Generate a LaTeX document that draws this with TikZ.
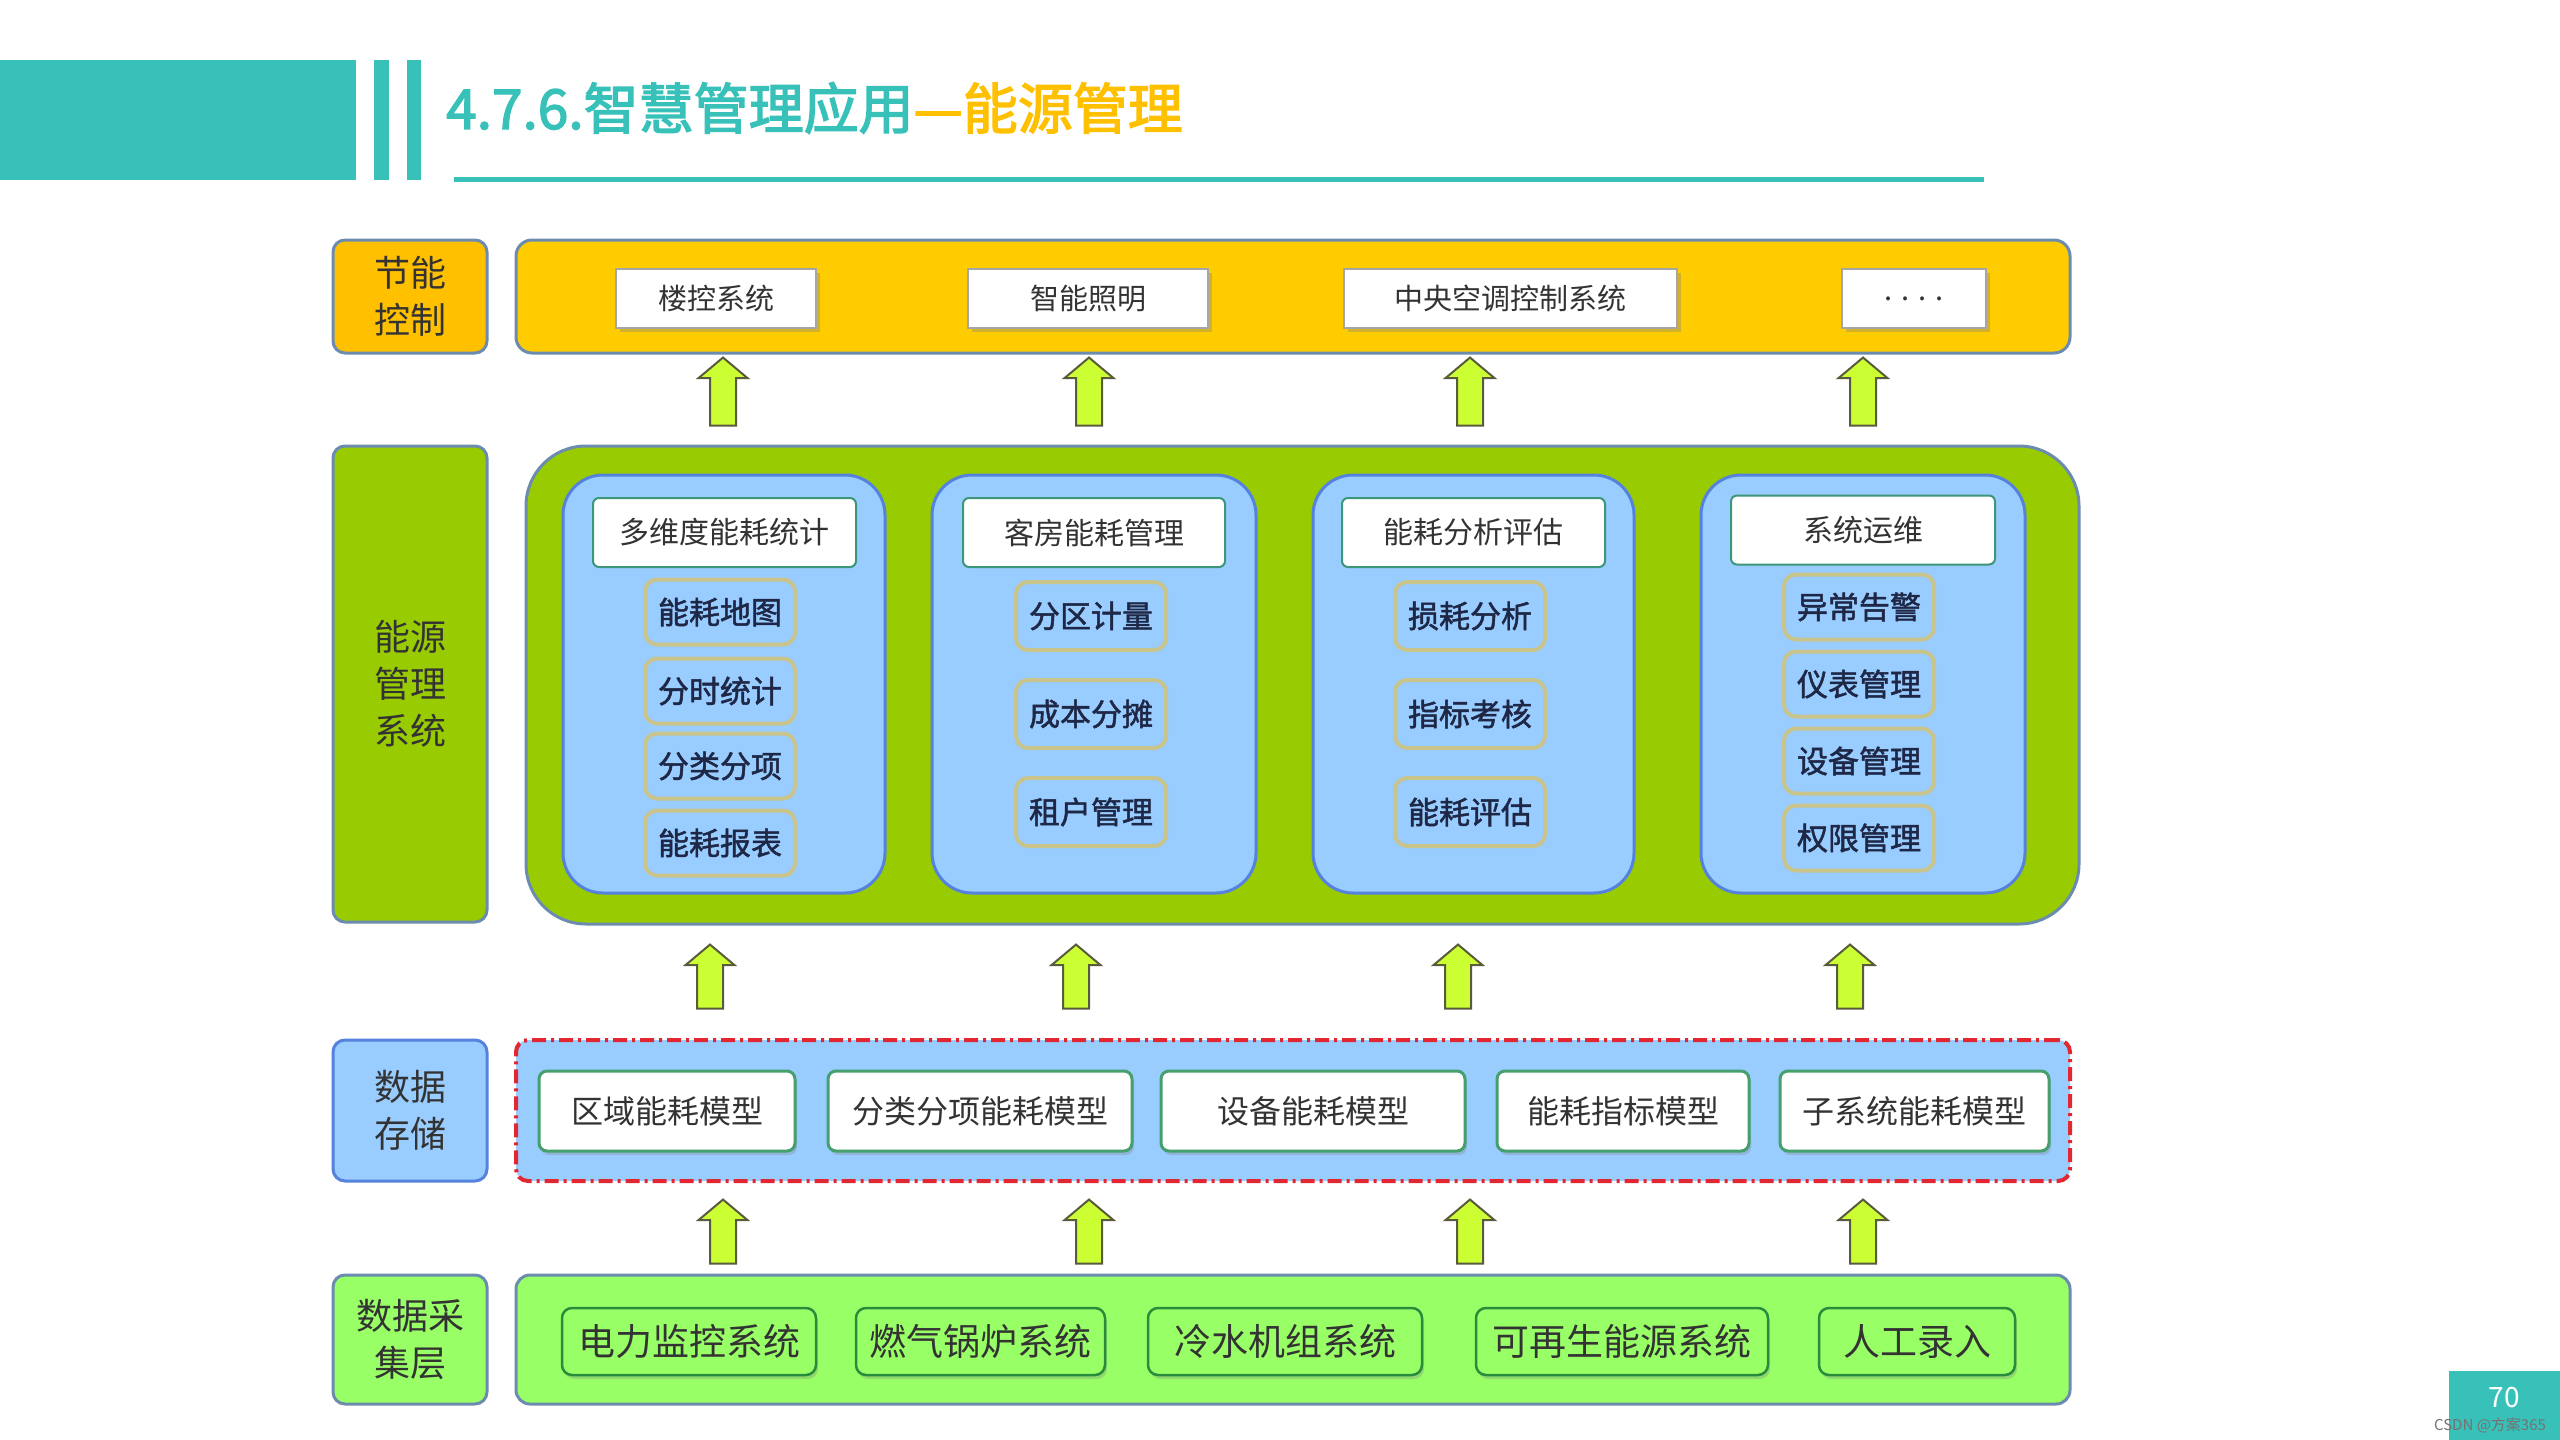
\documentclass[tikz,border=0pt]{standalone}
\usepackage{fontspec}
\setmainfont{Noto Sans CJK SC}
\newfontfamily\cjk{Noto Sans CJK SC}
\newfontfamily\cjkb{Noto Sans CJK SC}[FakeBold=1.6]
\newfontfamily\cjkt{Noto Sans CJK SC}[FakeBold=2.5]
\usetikzlibrary{shapes.arrows,shadows}
\definecolor{tealc}{RGB}{56,193,185}
\definecolor{goldc}{RGB}{255,192,0}
\definecolor{yelbox}{RGB}{255,204,0}
\definecolor{greenbig}{RGB}{153,204,0}
\definecolor{bluecol}{RGB}{153,204,255}
\definecolor{greencol}{RGB}{153,255,102}
\definecolor{bordgray}{RGB}{108,140,175}
\definecolor{bordblue}{RGB}{84,130,220}
\definecolor{itembord}{RGB}{200,196,140}
\definecolor{hdrbord}{RGB}{60,150,120}
\definecolor{modbord}{RGB}{70,160,110}
\definecolor{colbord}{RGB}{40,140,60}
\definecolor{arrfill}{RGB}{204,255,51}
\definecolor{arrbord}{RGB}{90,90,60}
\definecolor{txtc}{RGB}{51,51,51}
\definecolor{itemtxt}{RGB}{30,40,70}
\definecolor{redd}{RGB}{225,40,50}
\tikzset{
  lbl/.style={draw=bordgray, line width=3pt, rounded corners=12pt, align=center,
    font=\cjk\fontsize{36}{47}\selectfont, text=txtc, inner sep=0pt},
  mainbox/.style={draw=bordgray, line width=3pt, inner sep=0pt},
  topitem/.style={draw=black!35, line width=1.5pt, fill=white, inner sep=0pt,
    font=\cjk\fontsize{29}{34}\selectfont, text=txtc,
    drop shadow={shadow xshift=4pt, shadow yshift=-4pt, opacity=0.35}},
  colbox/.style={draw=bordblue, line width=3pt, fill=bluecol, rounded corners=40pt, inner sep=0pt},
  hdr/.style={draw=hdrbord, line width=2pt, fill=white, rounded corners=6pt, inner sep=0pt,
    font=\cjk\fontsize{30}{36}\selectfont, text=txtc},
  itm/.style={draw=itembord, line width=4pt, fill=bluecol, rounded corners=12pt, inner sep=0pt,
    minimum width=150pt, font=\cjkb\fontsize{31}{36}\selectfont, text=itemtxt},
  modl/.style={draw=modbord, line width=3pt, fill=white, rounded corners=8pt, inner sep=0pt,
    minimum height=80pt, font=\cjk\fontsize{32}{38}\selectfont, text=txtc,
    drop shadow={shadow xshift=2pt, shadow yshift=-4pt, opacity=0.3}},
  coll/.style={draw=colbord, line width=2.5pt, fill=greencol, rounded corners=10pt, inner sep=0pt,
    minimum height=67pt, font=\cjk\fontsize{37}{42}\selectfont, text=txtc,
    drop shadow={shadow xshift=2pt, shadow yshift=-4pt, opacity=0.3}},
  blockarrow/.style={single arrow, rotate=90, fill=arrfill, draw=arrbord, line width=2pt,
    inner sep=12pt, single arrow head extend=11.5pt, minimum width=47pt,
    single arrow tip angle=100, minimum height=#1},
}
\begin{document}
\begin{tikzpicture}[x=1pt,y=-1pt]
\useasboundingbox (0,0) rectangle (2560,1440);
\fill[white] (0,0) rectangle (2560,1440);
% header
\fill[tealc] (0,60) rectangle (356,180);
\fill[tealc] (374,60) rectangle (389,180);
\fill[tealc] (407,60) rectangle (421,180);
\node[anchor=west, inner sep=0pt, font=\cjkt\fontsize{55}{60}\selectfont] (title) at (446,108)
  {\textcolor{tealc}{4.7.6.智慧管理应用}\textcolor{goldc}{—能源管理}};
\draw[tealc, line width=5pt] (454,179) -- (1984,179);
% page number
\node[fill=tealc, minimum width=111pt, minimum height=69pt, inner sep=0pt] (pg) at (2504.5,1405.5) {};
\node[text=white, font=\cjk\fontsize{28}{32}\selectfont, inner sep=0pt] (pgnum) at (2504,1398) {70};
\node[text=black!55, font=\cjk\fontsize{15}{18}\selectfont, inner sep=0pt] (wm) at (2490,1425) {CSDN @方案365};
% layer labels
\node[lbl, fill=goldc, minimum width=154pt, minimum height=113pt] (L1) at (410,296.5) {节能\\控制};
\node[lbl, fill=greenbig, minimum width=154pt, minimum height=476pt] (L2) at (410,684) {能源\\管理\\系统};
\node[lbl, draw=bordblue, fill=bluecol, minimum width=154pt, minimum height=141pt] (L3) at (410,1110.5) {数据\\存储};
\node[lbl, fill=greencol, minimum width=154pt, minimum height=129pt] (L4) at (410,1339.5) {数据采\\集层};
% top box
\node[mainbox, fill=yelbox, rounded corners=16pt, minimum width=1554pt, minimum height=113pt] (top) at (1293,296.5) {};
\node[topitem, minimum width=200pt, minimum height=59pt] (t1) at (716,298.5) {楼控系统};
\node[topitem, minimum width=240pt, minimum height=59pt] (t2) at (1088,298.5) {智能照明};
\node[topitem, minimum width=333pt, minimum height=59pt] (t3) at (1510.5,298.5) {中央空调控制系统};
\node[topitem, minimum width=144pt, minimum height=59pt] (t4) at (1914,298.5) {. . . .};
% green system box
\node[mainbox, fill=greenbig, rounded corners=60pt, minimum width=1553pt, minimum height=478pt] (sys) at (1302.5,685) {};
\node[colbox, minimum width=322pt, minimum height=418pt] (c1) at (724,684) {};
\node[colbox, minimum width=324pt, minimum height=418pt] (c2) at (1094,684) {};
\node[colbox, minimum width=321pt, minimum height=418pt] (c3) at (1473.5,684) {};
\node[colbox, minimum width=324pt, minimum height=418pt] (c4) at (1863,684) {};
\node[hdr, minimum width=263pt, minimum height=69pt] (h1) at (724.5,532.5) {多维度能耗统计};
\node[hdr, minimum width=262pt, minimum height=69pt] (h2) at (1094,532.5) {客房能耗管理};
\node[hdr, minimum width=263pt, minimum height=69pt] (h3) at (1473.5,532.5) {能耗分析评估};
\node[hdr, minimum width=264pt, minimum height=69pt] (h4) at (1863,530) {系统运维};
% items col1
\node[itm, minimum height=65pt] (i11) at (720,612) {能耗地图};
\node[itm, minimum height=65pt] (i12) at (720,691) {分时统计};
\node[itm, minimum height=65pt] (i13) at (720,766) {分类分项};
\node[itm, minimum height=65pt] (i14) at (720,843) {能耗报表};
% items col2
\node[itm, minimum height=68pt] (i21) at (1091,616) {分区计量};
\node[itm, minimum height=68pt] (i22) at (1091,714) {成本分摊};
\node[itm, minimum height=68pt] (i23) at (1091,812) {租户管理};
% items col3
\node[itm, minimum height=68pt] (i31) at (1470,616) {损耗分析};
\node[itm, minimum height=68pt] (i32) at (1470,714) {指标考核};
\node[itm, minimum height=68pt] (i33) at (1470,812) {能耗评估};
% items col4
\node[itm, minimum height=65pt] (i41) at (1859,607) {异常告警};
\node[itm, minimum height=65pt] (i42) at (1859,684) {仪表管理};
\node[itm, minimum height=65pt] (i43) at (1859,761) {设备管理};
\node[itm, minimum height=65pt] (i44) at (1859,838) {权限管理};
% data storage
\node[mainbox, draw=redd, line width=4pt, dash pattern=on 14pt off 5pt on 3pt off 5pt, fill=bluecol, rounded corners=12pt, minimum width=1554pt, minimum height=141pt] (store) at (1293,1110.5) {};
\node[modl, minimum width=256pt] (m1) at (667,1111) {区域能耗模型};
\node[modl, minimum width=304pt] (m2) at (980,1111) {分类分项能耗模型};
\node[modl, minimum width=304pt] (m3) at (1313,1111) {设备能耗模型};
\node[modl, minimum width=252pt] (m4) at (1623,1111) {能耗指标模型};
\node[modl, minimum width=269pt] (m5) at (1914.5,1111) {子系统能耗模型};
% data collection
\node[mainbox, fill=greencol, rounded corners=14pt, minimum width=1554pt, minimum height=129pt] (coll) at (1293,1339.5) {};
\node[coll, minimum width=254pt] (k1) at (689,1341.5) {电力监控系统};
\node[coll, minimum width=249pt] (k2) at (980.5,1341.5) {燃气锅炉系统};
\node[coll, minimum width=274pt] (k3) at (1285,1341.5) {冷水机组系统};
\node[coll, minimum width=292pt] (k4) at (1622,1341.5) {可再生能源系统};
\node[coll, minimum width=196pt] (k5) at (1917,1341.5) {人工录入};
% block arrows
\node[blockarrow=68pt] (a1) at (723,397) {};
\node[blockarrow=68pt] (a2) at (1089,397) {};
\node[blockarrow=68pt] (a3) at (1470,397) {};
\node[blockarrow=68pt] (a4) at (1863,397) {};
\node[blockarrow=64pt] (b1) at (710,982) {};
\node[blockarrow=64pt] (b2) at (1076,982) {};
\node[blockarrow=64pt] (b3) at (1458,982) {};
\node[blockarrow=64pt] (b4) at (1850,982) {};
\node[blockarrow=64pt] (d1) at (723,1237) {};
\node[blockarrow=64pt] (d2) at (1089,1237) {};
\node[blockarrow=64pt] (d3) at (1470,1237) {};
\node[blockarrow=64pt] (d4) at (1863,1237) {};
\end{tikzpicture}
\end{document}
